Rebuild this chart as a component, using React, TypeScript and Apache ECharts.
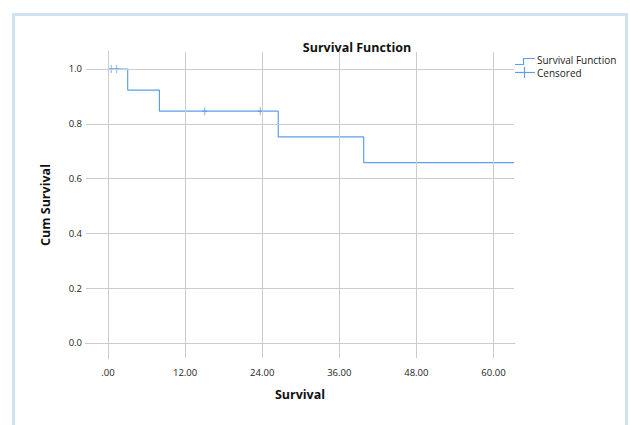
import React, { useEffect, useRef } from "react";
import * as echarts from "echarts";

const stepTimes = [0, 3.06, 8.0, 26.5, 39.8, 63.2];
const stepSurvival = [1.0, 0.923, 0.846, 0.752, 0.658, 0.658];
const censoredTimes = [0.5, 1.35, 15.05, 23.7];
const censoredSurvival = [1.0, 1.0, 0.846, 0.846];
const xTicks = [0, 12, 24, 36, 48, 60];
const yTicks = [0, 0.2, 0.4, 0.6, 0.8, 1.0];

const FONT = "'Open Sans', 'Noto Sans', sans-serif";
const LINE = "#5c9ff0";
const GRID = "#cccccc";

export default function App() {
  const ref = useRef<HTMLDivElement>(null);
  useEffect(() => {
    if (!ref.current) return;
    const chart = echarts.init(ref.current, null, { renderer: "svg" });
    const plusPath = "path://M5,0 L5,10 M0,5 L10,5";
    chart.setOption({
      animation: false,
      textStyle: { fontFamily: FONT },
      title: {
        text: "Survival Function",
        left: 352,
        top: 36,
        textAlign: "center",
        textStyle: { fontFamily: FONT, fontSize: 12.5, fontWeight: "bold", color: "#111" },
      },
      grid: { left: 86, right: 116, top: 52, bottom: 67, containLabel: false },
      xAxis: {
        type: "value",
        min: -3.43,
        max: 63.2,
        name: "Survival",
        nameLocation: "middle",
        nameGap: 30,
        nameTextStyle: { fontFamily: FONT, fontSize: 12.5, fontWeight: "bold", color: "#111" },
        axisLine: { show: true, lineStyle: { color: "#666", width: 1 } },
        axisTick: { show: false },
        splitLine: { show: false },
        axisLabel: {
          customValues: xTicks,
          margin: 9,
          fontSize: 9.5,
          color: "#222",
          fontFamily: FONT,
          formatter: (v: number) => (v === 0 ? ".00" : v.toFixed(2)),
        },
      },
      yAxis: {
        type: "value",
        min: -0.055,
        max: 1.062,
        name: "Cum Survival",
        nameLocation: "middle",
        nameGap: 34,
        nameRotate: 90,
        nameTextStyle: { fontFamily: FONT, fontSize: 12.5, fontWeight: "bold", color: "#111" },
        axisLine: { show: true, lineStyle: { color: "#666", width: 1 } },
        axisTick: { show: false },
        splitLine: { show: false },
        axisLabel: {
          customValues: yTicks,
          margin: 4,
          fontSize: 9.5,
          color: "#222",
          fontFamily: FONT,
          formatter: (v: number) => v.toFixed(1),
        },
      },
      series: [
        {
          type: "line",
          name: "grid",
          data: [],
          silent: true,
          markLine: {
            silent: true,
            symbol: ["none", "none"],
            label: { show: false },
            lineStyle: { color: GRID, type: "solid", width: 1 },
            data: [
              ...xTicks.map((v) => ({ xAxis: v })),
              ...yTicks.map((v) => ({ yAxis: v })),
            ],
          },
        },
        {
          type: "line",
          name: "Survival Function",
          step: "end",
          showSymbol: false,
          symbol: "none",
          lineStyle: { color: LINE, width: 1.2 },
          data: stepTimes.map((t, i) => [t, stepSurvival[i]]),
          z: 3,
        },
        {
          type: "scatter",
          name: "Censored",
          symbol: plusPath,
          symbolSize: [5, 8],
          itemStyle: { color: "none", borderColor: LINE, borderWidth: 1.2 },
          data: censoredTimes.map((t, i) => [t, censoredSurvival[i]]),
          z: 4,
        },
      ],
      graphic: [
        {
          type: "rect",
          shape: { x: 13.5, y: 14.5, width: 613, height: 430 },
          style: { fill: "none", stroke: "#cfe3f0", lineWidth: 3 },
          silent: true,
        },
        {
          type: "polyline",
          shape: { points: [[515, 64.5], [523.5, 64.5], [523.5, 58.5], [535, 58.5]] },
          style: { stroke: LINE, lineWidth: 1.2, fill: "none" },
        },
        {
          type: "text",
          x: 537,
          y: 60,
          style: { text: "Survival Function", fontFamily: FONT, fontSize: 10, lineHeight: 11, fill: "#222", verticalAlign: "middle" },
        },
        {
          type: "line",
          shape: { x1: 515, y1: 72.5, x2: 535, y2: 72.5 },
          style: { stroke: LINE, lineWidth: 1.2 },
        },
        {
          type: "line",
          shape: { x1: 524.5, y1: 67, x2: 524.5, y2: 78 },
          style: { stroke: LINE, lineWidth: 1.2 },
        },
        {
          type: "text",
          x: 537,
          y: 72.5,
          style: { text: "Censored", fontFamily: FONT, fontSize: 10, lineHeight: 11, fill: "#222", verticalAlign: "middle" },
        },
      ],
    });
    return () => chart.dispose();
  }, []);
  return (
    <div
      ref={ref}
      style={{ position: "fixed", left: 0, top: 0, width: 630, height: 425, background: "#fff" }}
    />
  );
}
